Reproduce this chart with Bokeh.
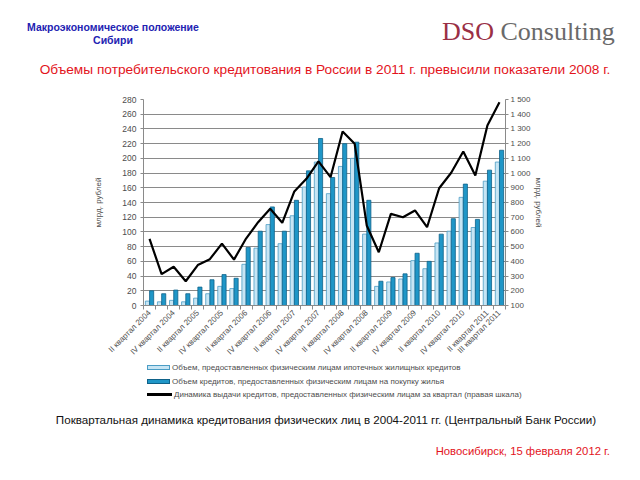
import math
from bokeh.plotting import figure
from bokeh.models import (Range1d, LinearAxis, FixedTicker, ColumnDataSource, Div)
from bokeh.layouts import column
from bokeh.transform import dodge
from bokeh.embed import file_html
from bokeh.resources import INLINE

# ---------------- data ----------------
quarters = [
    "II квартал 2004", "III квартал 2004", "IV квартал 2004",
    "I квартал 2005", "II квартал 2005", "III квартал 2005", "IV квартал 2005",
    "I квартал 2006", "II квартал 2006", "III квартал 2006", "IV квартал 2006",
    "I квартал 2007", "II квартал 2007", "III квартал 2007", "IV квартал 2007",
    "I квартал 2008", "II квартал 2008", "III квартал 2008", "IV квартал 2008",
    "I квартал 2009", "II квартал 2009", "III квартал 2009", "IV квартал 2009",
    "I квартал 2010", "II квартал 2010", "III квартал 2010", "IV квартал 2010",
    "I квартал 2011", "II квартал 2011", "III квартал 2011",
]
# mortgage loans (left axis, bln rub)
mortgage = [6, 5, 7, 5, 10, 16, 26, 23, 56, 78, 110, 84, 122, 161, 195,
            152, 189, 200, 97, 26, 32, 36, 61, 50, 85, 101, 147, 106, 169, 195]
# loans for housing purchase (left axis, bln rub)
housing = [20, 16, 21, 16, 25, 35, 42, 37, 79, 101, 134, 101, 143, 183, 227,
           174, 220, 222, 143, 33, 38, 43, 71, 60, 97, 118, 165, 117, 184, 211]
# total loans issued to individuals per quarter (right axis, bln rub)
issuance = [553, 313, 363, 265, 375, 415, 521, 412, 555, 666, 758, 662, 875,
            961, 1079, 972, 1283, 1199, 644, 462, 723, 700, 746, 632, 897,
            1002, 1147, 984, 1323, 1482]

left_ticks = [0, 20, 40, 60, 80, 100, 120, 140, 160, 180, 200, 220, 240, 260, 280]
right_ticks = [100, 200, 300, 400, 500, 600, 700, 800, 900, 1000, 1100, 1200,
               1300, 1400, 1500]
label_quarters = ["II квартал 2004", "IV квартал 2004", "II квартал 2005",
                  "IV квартал 2005", "II квартал 2006", "IV квартал 2006",
                  "II квартал 2007", "IV квартал 2007", "II квартал 2008",
                  "IV квартал 2008", "II квартал 2009", "IV квартал 2009",
                  "II квартал 2010", "IV квартал 2010", "II квартал 2011",
                  "III квартал 2011"]

series_names = [
    "Объем, предоставленных физическим лицам ипотечных жилищных кредитов",
    "Объем кредитов, предоставленных физическим лицам на покупку жилья",
    "Динамика выдачи кредитов, предоставленных физическим лицам за квартал (правая шкала)",
]

header_left = ["Макроэкономическое положение", "Сибири"]
brand = ["DSO", "Consulting"]
headline = "Объемы потребительского кредитования в России в 2011 г.  превысили показатели 2008 г."
caption = "Поквартальная динамика кредитования физических лиц в 2004-2011 гг. (Центральный Банк России)"
place_date = "Новосибирск, 15 февраля 2012 г."

# colours
LIGHT_FILL, LIGHT_LINE = "#c7e5f4", "#4b9dc5"
DARK_FILL, DARK_LINE = "#1f96c7", "#0f6289"
LINE_COLOR = "black"
GRAY = "#4d4d4d"
AX = "#8a8a8a"

idx = list(range(len(quarters)))
source = ColumnDataSource(dict(x=idx, mortgage=mortgage, housing=housing,
                               issuance=issuance))

W = 640
HEAD_H = 93
BOTTOM = 58
FIG_H = 6 + 206 + BOTTOM
FOOT_H = 480 - HEAD_H - FIG_H
FOOT_TOP = HEAD_H + FIG_H

# ---------------- header ----------------
header_html = f"""
<div style="position:relative;width:{W}px;height:{HEAD_H}px;">
 <div style="position:absolute;left:13px;top:21px;width:200px;text-align:center;white-space:nowrap;
   font-family:'Liberation Sans';font-weight:bold;font-size:10.5px;line-height:13px;color:#2222b2;">
   {header_left[0]}<br>{header_left[1]}</div>
 <div style="position:absolute;left:442px;top:19px;white-space:nowrap;
   font-family:'Liberation Serif';font-size:26px;line-height:26px;">
   <span style="color:#9a2f45">{brand[0]}</span> <span style="color:#6a6a6a">{brand[1]}</span></div>
 <div style="position:absolute;left:5px;top:62px;width:640px;text-align:center;white-space:nowrap;
   font-family:'Liberation Sans';font-size:13.7px;line-height:16px;color:#e3141c;">{headline}</div>
</div>
"""
header = Div(text=header_html, width=W, height=HEAD_H, margin=0)

# ---------------- figure ----------------
p = figure(width=W, height=FIG_H, output_backend="svg", toolbar_location=None,
           x_range=Range1d(-0.5, len(quarters) - 0.5),
           y_range=Range1d(0, 280),
           min_border_left=143, min_border_right=135,
           min_border_top=6, min_border_bottom=BOTTOM, margin=0)
p.outline_line_color = None
p.extra_y_ranges = {"r": Range1d(100, 1500)}

p.vbar(x=dodge("x", -0.175, range=p.x_range), top="mortgage", width=0.34,
       source=source, fill_color=LIGHT_FILL, line_color=LIGHT_LINE,
       line_width=0.8)
p.vbar(x=dodge("x", 0.175, range=p.x_range), top="housing", width=0.34,
       source=source, fill_color=DARK_FILL, line_color=DARK_LINE,
       line_width=0.8)
p.line("x", "issuance", source=source, y_range_name="r",
       line_color=LINE_COLOR, line_width=2.2)

p.xgrid.visible = False
p.ygrid.grid_line_color = AX
p.ygrid.grid_line_width = 1

ya = p.yaxis[0]
ya.ticker = FixedTicker(ticks=left_ticks)
ra = LinearAxis(y_range_name="r", ticker=FixedTicker(ticks=right_ticks),
                major_label_overrides={v: f"{v:,}".replace(",", " ") for v in right_ticks})
p.add_layout(ra, "right")

for ax in (ya, ra):
    ax.major_label_text_font = "Liberation Sans"
    ax.major_label_text_color = GRAY
    ax.axis_line_color = AX
    ax.major_tick_line_color = AX
    ax.major_tick_out = 3
    ax.major_tick_in = 0
    ax.minor_tick_out = 0
    ax.minor_tick_in = 0
    ax.axis_label = "млрд. рублей"
    ax.axis_label_text_font = "Liberation Sans"
    ax.axis_label_text_font_size = "8px"
    ax.axis_label_text_font_style = "normal"
    ax.axis_label_text_color = GRAY
ya.major_label_text_font_size = "8.5px"
ya.major_label_standoff = 4
ya.axis_label_standoff = 16
ra.major_label_text_font_size = "8px"
ra.major_label_standoff = 2
ra.axis_label_standoff = 0

label_pos = [quarters.index(q) for q in label_quarters]
xa = p.xaxis[0]
xa.ticker = FixedTicker(ticks=label_pos,
                        minor_ticks=[i - 0.5 for i in range(len(quarters) + 1)])
xa.major_label_overrides = {i: quarters[i] for i in label_pos}
xa.major_label_orientation = math.pi / 4
xa.major_label_text_font = "Liberation Sans"
xa.major_label_text_font_size = "8px"
xa.major_label_text_color = GRAY
xa.major_label_standoff = 2
xa.axis_line_color = AX
xa.major_tick_out = 0
xa.major_tick_in = 0
xa.minor_tick_out = 4
xa.minor_tick_in = 0
xa.minor_tick_line_color = AX

# ---------------- footer (legend + captions) ----------------
swatches = [
    f"width:23px;height:5px;background:{LIGHT_FILL};border:1px solid {LIGHT_LINE};",
    f"width:23px;height:5px;background:{DARK_FILL};border:1px solid {DARK_LINE};",
    f"width:25px;height:2.5px;background:{LINE_COLOR};",
]
rows = ""
for k, (name, sw) in enumerate(zip(series_names, swatches)):
    top = k * 13.5
    rows += f"""
 <div style="position:absolute;left:147px;top:{top}px;height:9px;display:flex;align-items:center;white-space:nowrap;">
   <span style="display:inline-block;{sw}"></span>
   <span style="margin-left:2px;font-family:'Liberation Sans';font-size:8px;line-height:9px;color:{GRAY};">{name}</span>
 </div>"""

footer_html = f"""
<div style="position:relative;width:{W}px;height:{FOOT_H}px;">{rows}
 <div style="position:absolute;left:0px;top:{420 - FOOT_TOP - 7}px;width:652px;text-align:center;white-space:nowrap;
   font-family:'Liberation Sans';font-size:11.6px;line-height:14px;color:#111111;">{caption}</div>
 <div style="position:absolute;right:30px;top:{451 - FOOT_TOP - 7}px;white-space:nowrap;text-align:right;
   font-family:'Liberation Sans';font-size:11.3px;line-height:14px;color:#e3141c;">{place_date}</div>
</div>
"""
footer = Div(text=footer_html, width=W, height=FOOT_H, margin=0)

layout = column(header, p, footer, spacing=0, margin=0)
open("out.html", "w").write(file_html(layout, INLINE))
